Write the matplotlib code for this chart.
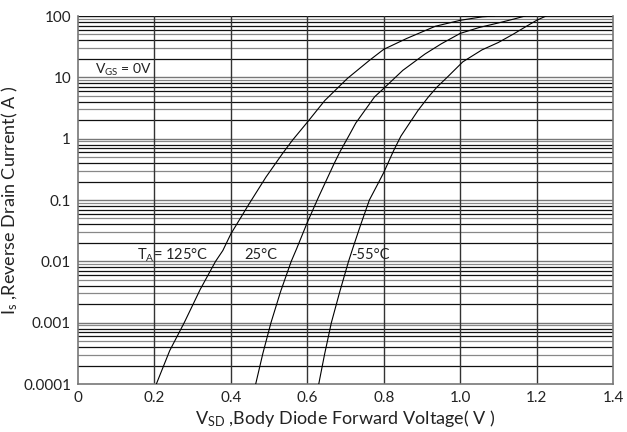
import matplotlib
matplotlib.use("Agg")
import matplotlib.pyplot as plt

plt.rcParams['font.family'] = ['Lato', 'DejaVu Sans']
plt.rcParams['mathtext.fontset'] = 'custom'
plt.rcParams['mathtext.rm'] = 'Lato'
plt.rcParams['mathtext.it'] = 'Lato'

# Data
v_125 = [0.205, 0.24, 0.278, 0.32, 0.36, 0.379, 0.40, 0.448, 0.492, 0.535, 0.561,
         0.60, 0.646, 0.705, 0.763, 0.80, 0.86, 0.935, 1.00, 1.058, 1.09]
i_125 = [1e-4, 3.5e-4, 1e-3, 3.5e-3, 1e-2, 0.015, 0.028, 0.087, 0.237, 0.57, 0.94,
         1.85, 4.2, 9.6, 19, 28.6, 43, 68, 85, 97, 100]

v_25 = [0.465, 0.484, 0.505, 0.53, 0.558, 0.572, 0.60, 0.629, 0.67, 0.686, 0.71,
        0.727, 0.776, 0.80, 0.85, 0.908, 0.95, 1.00, 1.05, 1.10, 1.14, 1.17]
i_25 = [1e-4, 3.2e-4, 1e-3, 3.2e-3, 1e-2, 0.016, 0.043, 0.11, 0.39, 0.62, 1.15,
        1.8, 4.8, 6.6, 13, 24, 35, 52, 65, 77, 89, 100]

v_m55 = [0.63, 0.645, 0.663, 0.685, 0.708, 0.72, 0.74, 0.7625, 0.786, 0.80, 0.826,
         0.845, 0.867, 0.89, 0.917, 0.94, 0.966, 1.007, 1.057, 1.10, 1.14, 1.17,
         1.20, 1.225]
i_m55 = [1e-4, 3e-4, 1e-3, 3.2e-3, 1e-2, 0.017, 0.04, 0.1, 0.19, 0.28, 0.64,
         1.1, 1.77, 2.9, 4.8, 7, 10, 17.9, 28, 37, 51, 66,
         85, 100]

x_ticks = [0, 0.2, 0.4, 0.6, 0.8, 1.0, 1.2, 1.4]
x_ticklabels = ['0', '0.2', '0.4', '0.6', '0.8', '1.0', '1.2', '1.4']
y_ticks = [1e-4, 1e-3, 1e-2, 1e-1, 1, 10, 100]
y_ticklabels = ['0.0001', '0.001', '0.01', '0.1', '1', '10', '100']

fig = plt.figure(figsize=(6.27, 4.32), dpi=100)
ax = fig.add_axes([78/627, 1-384/432, (613-78)/627, (384-16)/432])
ax.set_yscale('log')
ax.set_xlim(0, 1.4)
ax.set_ylim(1e-4, 100)

# horizontal grid lines
minor_colors = {2: '#111111', 3: '#888888', 4: '#111111', 5: '#888888',
                6: '#111111', 7: '#111111', 8: '#111111', 9: '#888888'}
for dec in range(-4, 2):
    base = 10.0 ** dec
    if dec > -4:
        ax.axhline(base, color='#777777', lw=1.0, zorder=1)
    for m in range(2, 10):
        ax.axhline(m * base, color=minor_colors[m], lw=0.9, zorder=1)
ax.axhline(100, color='#111111', lw=1.0, zorder=1)
for xv in x_ticks[1:-1]:
    ax.axvline(xv, color='#333333', lw=1.0, zorder=1)

ax.plot(v_125, i_125, color='black', lw=0.8, zorder=3)
ax.plot(v_25, i_25, color='black', lw=0.8, zorder=3)
ax.plot(v_m55, i_m55, color='black', lw=0.8, zorder=3)

for s in ['left', 'bottom', 'right']:
    ax.spines[s].set_color('#777777')
    ax.spines[s].set_linewidth(1.2)
ax.spines['top'].set_visible(False)

ax.set_xticks(x_ticks)
ax.set_xticklabels(x_ticklabels)
ax.set_yticks(y_ticks)
ax.set_yticklabels(y_ticklabels)
ax.yaxis.set_minor_locator(matplotlib.ticker.NullLocator())
ax.tick_params(axis='both', length=0, labelsize=11, colors='#222222', pad=5)

ax.set_xlabel(r'V$_{\mathrm{SD}}$ ,Body Diode Forward Voltage( V )', fontsize=13,
              color='#222222', labelpad=2)
ax.set_ylabel(r'I$_{\mathrm{s}}$ ,Reverse Drain Current( A )', fontsize=13,
              color='#222222', labelpad=2)

ax.text(0.045, 13, r'V$_{\mathrm{GS}}$ = 0V', fontsize=10, color='#222222',
        va='center', ha='left', zorder=4)
ax.text(0.155, 0.0125, r'T$_{\mathrm{A}}$= 125°C', fontsize=10.5, color='#222222',
        va='center', ha='left', zorder=4)
ax.text(0.435, 0.0125, '25°C', fontsize=10.5, color='#222222',
        va='center', ha='left', zorder=4)
ax.text(0.715, 0.0125, '-55°C', fontsize=10.5, color='#222222',
        va='center', ha='left', zorder=4)

fig.savefig('out.png', dpi=100)
